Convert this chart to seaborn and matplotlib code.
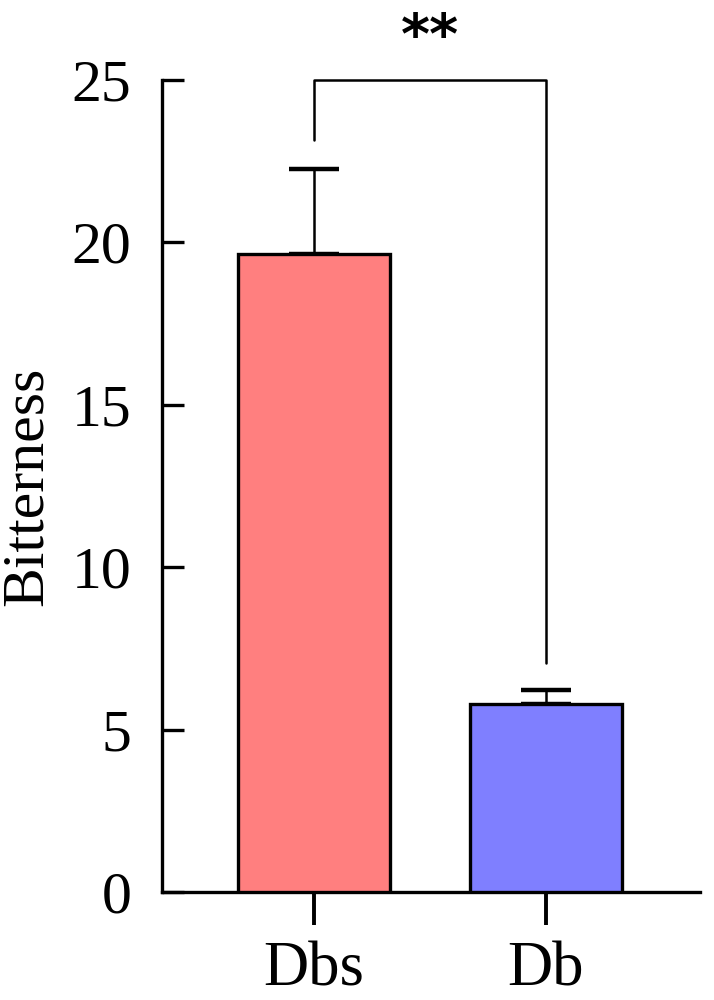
import matplotlib
matplotlib.use("Agg")
import matplotlib.pyplot as plt
import seaborn as sns
import pandas as pd

groups = ["Dbs", "Db"]
means = [19.65, 5.8]
errors = [2.6, 0.42]
colors = ["#FF7F7F", "#7F7FFF"]
y_ticks = [0, 5, 10, 15, 20, 25]
bracket_left_start = 23.15
bracket_right_end = 7.05
bracket_top = 25
sig_label = "**"

sns.set_theme(style="white")
plt.rcParams["font.family"] = ["Liberation Serif", "DejaVu Serif"]

df = pd.DataFrame({"group": groups, "value": means})

fig = plt.figure(figsize=(7.14, 10), dpi=100)
ax = fig.add_axes([0.227, 0.108, 0.753, 0.812])

sns.barplot(data=df, x="group", y="value", hue="group", palette=colors,
            order=groups, hue_order=groups, legend=False, errorbar=None,
            saturation=1, width=0.655, edgecolor="black", linewidth=2.4,
            ax=ax, zorder=3)

ax.errorbar(range(len(groups)), means, yerr=[[0] * len(errors), errors],
            fmt="none", ecolor="black", elinewidth=1.8, capsize=18,
            capthick=3.2, zorder=2)

ax.set_xlim(-0.655, 1.664)
ax.set_ylim(0, 25)
ax.set_yticks(y_ticks)
ax.set_yticklabels([str(t) for t in y_ticks])

for side in ["top", "right"]:
    ax.spines[side].set_visible(False)
for side in ["left", "bottom"]:
    ax.spines[side].set_linewidth(2.4)
    ax.spines[side].set_color("black")

ax.tick_params(axis="y", left=True, direction="in", length=16, width=2.4,
               labelsize=43, pad=22, colors="black")
ax.tick_params(axis="x", bottom=True, direction="out", length=24, width=2.8,
               labelsize=45, pad=12, colors="black")
ax.set_xlabel("")
ax.set_ylabel("Bitterness", fontsize=43, labelpad=12, color="black")

# significance bracket
ax.plot([0, 0, 1, 1], [bracket_left_start, bracket_top, bracket_top, bracket_right_end],
        color="black", lw=1.8, clip_on=False, zorder=4)
ax.text(0.5, bracket_top + 1.3, sig_label, ha="center", va="center",
        fontsize=40, fontweight="bold", color="black",
        family=["DejaVu Sans"], clip_on=False)

fig.savefig("out.png", dpi=100)
